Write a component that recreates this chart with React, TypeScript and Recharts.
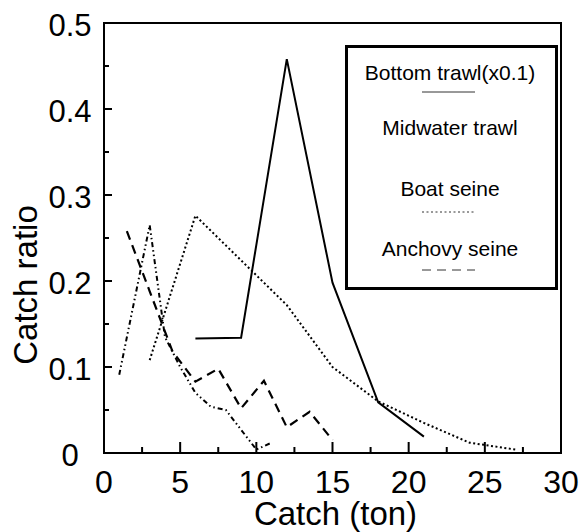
import React from "react";
import { LineChart, Line, XAxis, YAxis, ReferenceArea, ReferenceLine, Legend, Label } from "recharts";

// ── data ──
const seriesNames = ["Bottom trawl(x0.1)", "Midwater trawl", "Boat seine", "Anchovy seine"];

const bottomX = [6, 9, 12, 15, 18, 21];
const bottomY = [0.133, 0.134, 0.458, 0.198, 0.059, 0.019];

const midwaterX = [1, 3, 4, 5, 6, 7, 8, 9, 10, 11];
const midwaterY = [0.091, 0.265, 0.135, 0.1, 0.07, 0.054, 0.05, 0.027, 0.004, 0.012];

const boatX = [3, 6, 9, 12, 15, 18, 21, 24, 27];
const boatY = [0.108, 0.276, 0.224, 0.172, 0.1, 0.06, 0.035, 0.012, 0.004];

const anchovyX = [1.5, 3, 4.5, 6, 7.5, 9, 10.5, 12, 13.5, 15];
const anchovyY = [0.258, 0.188, 0.118, 0.083, 0.098, 0.052, 0.084, 0.03, 0.048, 0.015];

const xTicks = [0, 2.5, 5, 7.5, 10, 12.5, 15, 17.5, 20, 22.5, 25, 27.5, 30];
const yTicks = [0, 0.05, 0.1, 0.15, 0.2, 0.25, 0.3, 0.35, 0.4, 0.45, 0.5];

const FONT = '"Liberation Sans", Arial, sans-serif';

// plot is 430px tall for 0.5 -> inward x tick lengths in data units
const PX_Y = 0.5 / 430;

const toPoints = (xs: number[], ys: number[]) => xs.map((x, i) => ({ x, y: ys[i] }));

// styles per series (solid, dash-dot-dot, dotted, dashed)
const dashes = [undefined, "5 3 1.5 3 1.5 3", "2 2.5", "9 6"];
const widths = [2, 2, 2, 2.2];

function XTick(props: any) {
  const { x, y, payload } = props;
  const v = payload.value as number;
  if (v % 5 !== 0) return <g />;
  return (
    <text x={x} y={y + 40} textAnchor="middle" fontSize={32} fontFamily={FONT} fill="#000">
      {v}
    </text>
  );
}

function YTick(props: any) {
  const { x, y, payload } = props;
  const v = payload.value as number;
  const major = Math.round(v * 100) % 10 === 0;
  return (
    <g>
      <line x1={x} x2={x + (major ? 8 : 5)} y1={y} y2={y} stroke="#000" strokeWidth={2} />
      {major && (
        <text
          x={x - 34}
          y={y + 2}
          textAnchor="middle"
          dominantBaseline="central"
          fontSize={31}
          fontFamily={FONT}
          fill="#000"
        >
          {v === 0 ? "0" : v.toFixed(1)}
        </text>
      )}
    </g>
  );
}

function LegendBox() {
  const textY = [24, 79, 140, 200];
  const sampleY = [44, null, 164, 222];
  return (
    <svg width={207} height={239} style={{ display: "block" }}>
      {seriesNames.map((name, i) => (
        <g key={name}>
          <text
            x={102}
            y={textY[i]}
            textAnchor="middle"
            dominantBaseline="central"
            fontSize={21}
            fontFamily={FONT}
            fill="#000"
          >
            {name}
          </text>
          {sampleY[i] !== null && (
            <line
              x1={74}
              x2={127}
              y1={sampleY[i] as number}
              y2={sampleY[i] as number}
              stroke="#333"
              strokeWidth={1}
              strokeDasharray={dashes[i]}
            />
          )}
        </g>
      ))}
    </svg>
  );
}

export default function App() {
  const series = [
    toPoints(bottomX, bottomY),
    toPoints(midwaterX, midwaterY),
    toPoints(boatX, boatY),
    toPoints(anchovyX, anchovyY),
  ];

  return (
    <div style={{ width: 587, height: 532, background: "#fff" }}>
      <style>{"body{margin:0}"}</style>
      <LineChart width={587} height={532} margin={{ top: 23, right: 26, bottom: 0, left: 0 }}>
        <XAxis
          type="number"
          dataKey="x"
          domain={[0, 30]}
          ticks={xTicks}
          interval={0}
          height={79}
          tickLine={false}
          tickSize={0}
          tickMargin={0}
          axisLine={{ stroke: "#000", strokeWidth: 2 }}
          tick={<XTick />}
          allowDataOverflow
        >
          <Label
            content={(p: any) => {
              const vb = p.viewBox || { x: 104, y: 453, width: 457 };
              return (
                <text
                  x={vb.x + vb.width / 2 + 3}
                  y={vb.y + 72}
                  textAnchor="middle"
                  fontSize={33}
                  fontFamily={FONT}
                  fill="#000"
                >
                  Catch (ton)
                </text>
              );
            }}
          />
        </XAxis>
        <YAxis
          type="number"
          domain={[0, 0.5]}
          ticks={yTicks}
          interval={0}
          width={104}
          tickLine={false}
          tickSize={0}
          tickMargin={0}
          axisLine={{ stroke: "#000", strokeWidth: 2 }}
          tick={<YTick />}
          allowDataOverflow
        >
          <Label
            content={(p: any) => {
              const vb = p.viewBox || { x: 0, y: 23, height: 430 };
              const cx = 37;
              const cy = vb.y + 262;
              return (
                <text
                  x={cx}
                  y={cy}
                  transform={`rotate(-90 ${cx} ${cy})`}
                  textAnchor="middle"
                  fontSize={33}
                  fontFamily={FONT}
                  fill="#000"
                >
                  Catch ratio
                </text>
              );
            }}
          />
        </YAxis>
        <ReferenceArea
          x1={0}
          x2={30}
          y1={0}
          y2={0.5}
          fill="none"
          stroke="#000"
          strokeWidth={2}
          ifOverflow="visible"
        />
        {xTicks.map((v) => (
          <ReferenceLine
            key={`xt-${v}`}
            segment={[
              { x: v, y: 0 },
              { x: v, y: (v % 5 === 0 ? 11 : 6) * PX_Y },
            ]}
            stroke="#000"
            strokeWidth={2}
            ifOverflow="visible"
          />
        ))}
        {series.map((data, i) => (
          <Line
            key={seriesNames[i]}
            data={data}
            dataKey="y"
            name={seriesNames[i]}
            type="linear"
            stroke="#000"
            strokeWidth={widths[i]}
            strokeDasharray={dashes[i]}
            dot={false}
            activeDot={false}
            isAnimationActive={false}
          />
        ))}
        <Legend
          layout="horizontal"
          verticalAlign="middle"
          align="center"
          wrapperStyle={{
            position: "absolute",
            left: 345,
            top: 45,
            width: 213,
            height: 245,
            border: "3px solid #000",
            boxSizing: "border-box",
            background: "#fff",
          }}
          content={() => <LegendBox />}
        />
      </LineChart>
    </div>
  );
}
